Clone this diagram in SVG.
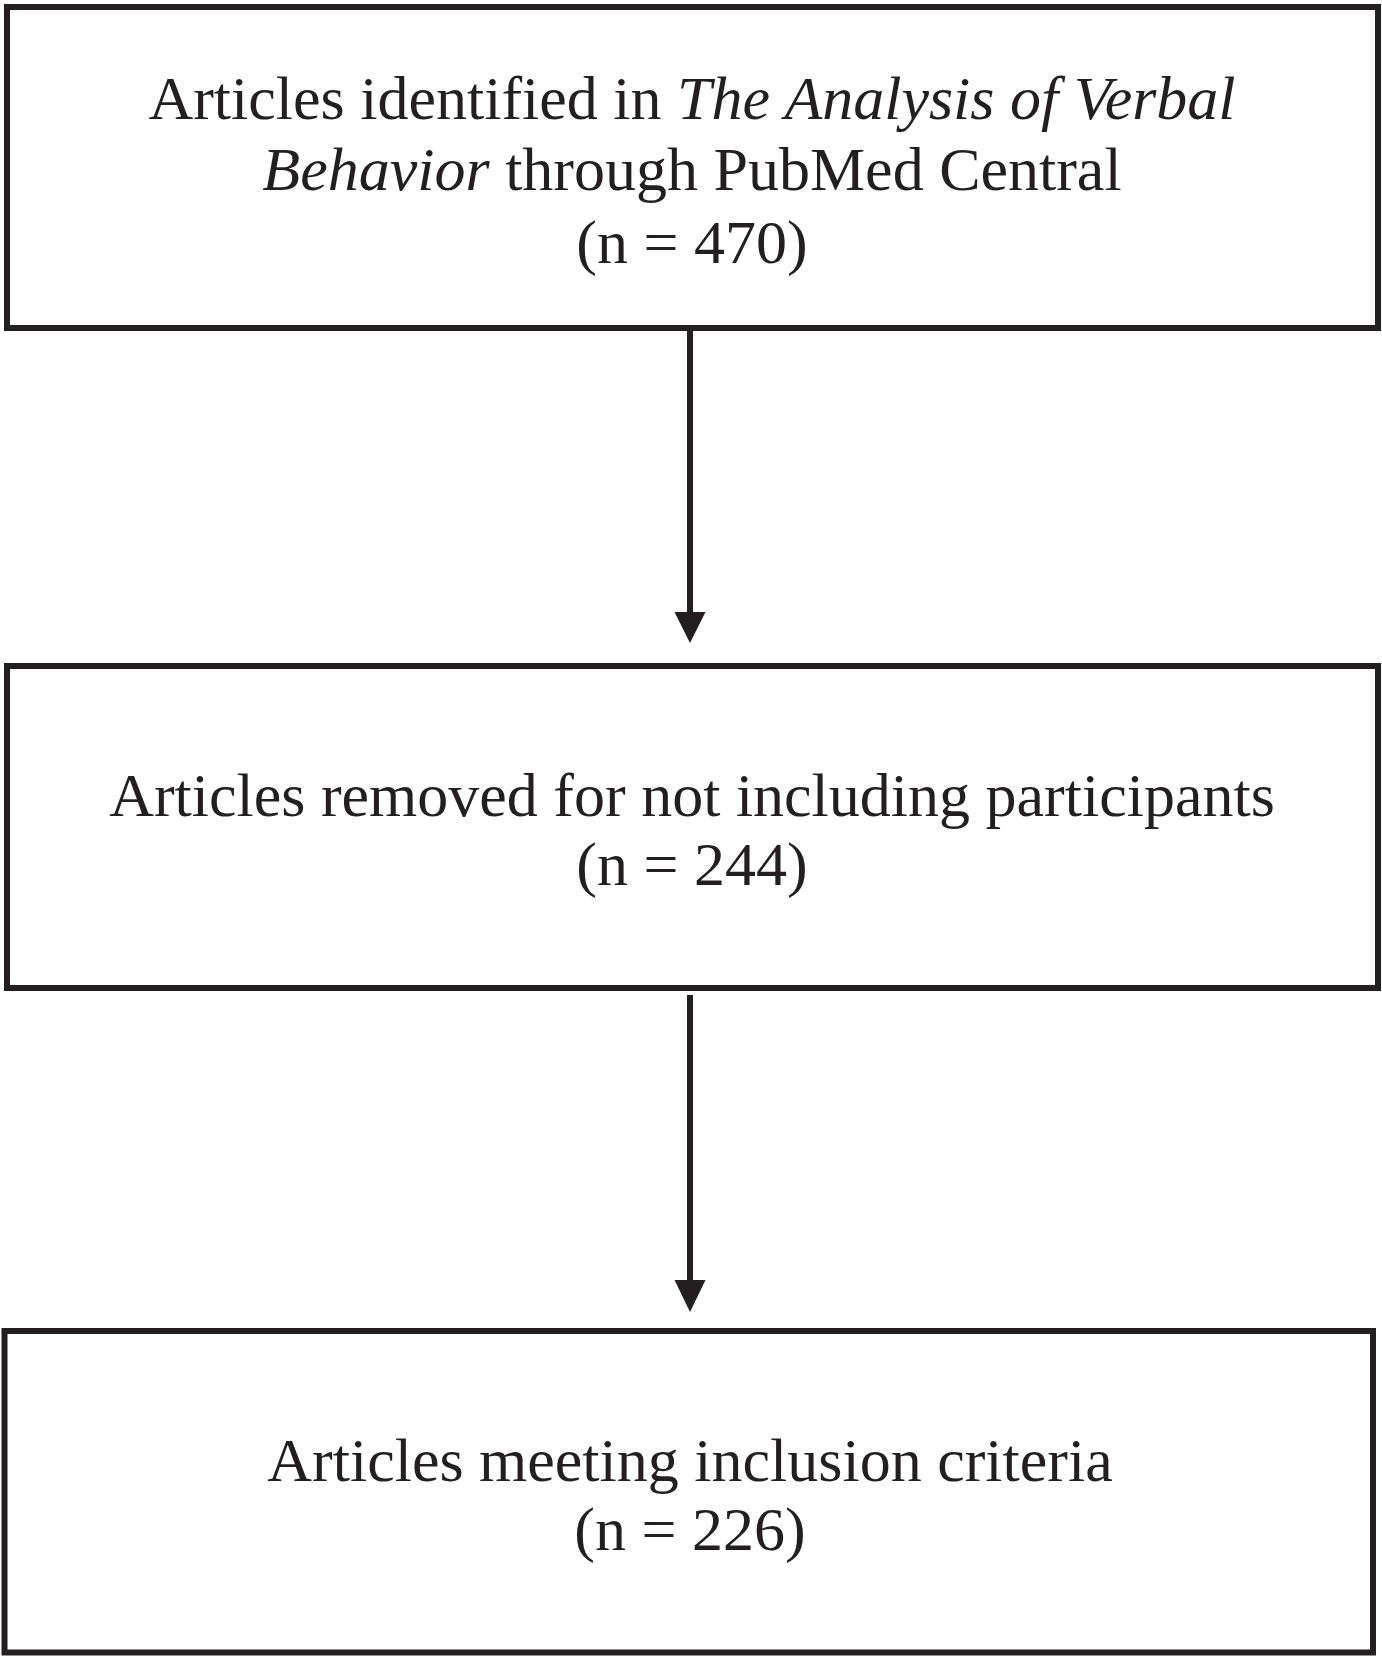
<svg xmlns="http://www.w3.org/2000/svg" width="1382" height="1656" viewBox="0 0 1382 1656">
<style>
.box{fill:#fff;stroke:#231f20;stroke-width:6}
.t{font-family:"Liberation Serif","Times New Roman",serif;font-size:62px;fill:#231f20;text-anchor:middle}
.i{font-style:italic}
.c{stroke:#231f20;stroke-width:6;fill:none}
.h{fill:#231f20}
</style>
<rect width="1382" height="1656" fill="#fff"/>
<g id="n1">
<rect class="box" x="7" y="7" width="1371" height="321"/>
<text class="t" x="692" y="119">Articles identified in <tspan class="i">The Analysis of Verbal</tspan></text>
<text class="t" x="692" y="190"><tspan class="i">Behavior</tspan> through PubMed Central</text>
<text class="t" x="692" y="263">(n = 470)</text>
</g>
<g id="n2">
<rect class="box" x="7" y="666" width="1371" height="322"/>
<text class="t" x="692" y="816">Articles removed for not including participants</text>
<text class="t" x="692" y="885">(n = 244)</text>
</g>
<g id="n3">
<rect class="box" x="4.5" y="1331" width="1368.5" height="321.5"/>
<text class="t" x="690" y="1481">Articles meeting inclusion criteria</text>
<text class="t" x="690" y="1550">(n = 226)</text>
</g>
<g id="connectors">
<line class="c" x1="690" y1="331" x2="690" y2="614"/>
<polygon class="h" points="674.5,612 705.5,612 690,643"/>
<line class="c" x1="690" y1="995" x2="690" y2="1282"/>
<polygon class="h" points="674.5,1280 705.5,1280 690,1312"/>
</g>
</svg>
